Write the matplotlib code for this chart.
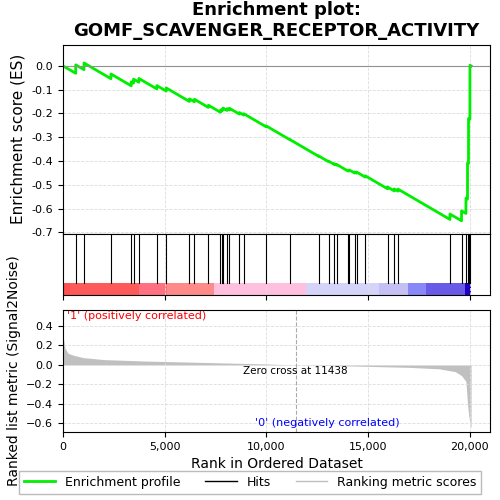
import numpy as np
import matplotlib
matplotlib.use("Agg")
import matplotlib.pyplot as plt
from matplotlib.lines import Line2D

n_genes = 20070
hits = [624, 1032, 2359, 3356, 3469, 3730, 4614, 5076, 6216, 6462, 7150, 7740, 7804,
        7873, 8070, 8182, 8673, 8885, 9985, 11164, 12570, 13061, 13342, 13456, 14016,
        14080, 14340, 14439, 14867, 15963, 16292, 16474, 19029, 19600, 19816, 19894,
        19943, 20012]
metric_rank = [0, 100, 250, 500, 1000, 2000, 4000, 6000, 8000, 10000, 11438, 14000,
               17000, 18500, 19300, 19600, 19816, 19894, 19943, 20012, 20069]
metric_val = [0.30, 0.17, 0.12, 0.10, 0.075, 0.055, 0.04, 0.03, 0.02, 0.01, 0.0, -0.01,
              -0.025, -0.04, -0.07, -0.11, -0.17, -0.4, -0.5, -0.6, -0.65]
band_edges = [0, 344, 3750, 5127, 7420, 11940, 15543, 16987, 17872, 19754, 20070]
band_colors = ['#ff5050', '#ff5a5a', '#ff7080', '#ff8a8a', '#ffc0e0', '#d4d4f8',
               '#c4c0f4', '#8888f8', '#6a5ae8', '#2000c0']

# running enrichment score (weighted, p=1)
ranks = np.arange(n_genes)
metric = np.interp(ranks, metric_rank, metric_val)
is_hit = np.zeros(n_genes, bool)
is_hit[hits] = True
w = np.abs(metric) * is_hit
step = np.where(is_hit, w / w.sum(), -1.0 / (n_genes - len(hits)))
es = np.concatenate([[0], np.cumsum(step)])
es_x = np.arange(n_genes + 1)

fig = plt.figure(figsize=(5, 5), dpi=100)
L, W = 0.126, 0.854
ax1 = fig.add_axes([L, 1 - 0.467, W, 0.378])
ax2 = fig.add_axes([L, 1 - 0.59, W, 0.123])
ax3 = fig.add_axes([L, 1 - 0.864, W, 0.244])

ax1.plot(es_x, es, color='#00ee00', lw=2)
ax1.axhline(0, color='#909090', lw=0.8)
ax1.set_xlim(0, 21000)
ax1.set_ylim(-0.705, 0.09)
ax1.set_xticks([0, 5000, 10000, 15000, 20000])
ax1.set_xticklabels([])
ax1.set_yticks(np.arange(-0.7, 0.01, 0.1))
ax1.set_yticklabels(['-0.7', '-0.6', '-0.5', '-0.4', '-0.3', '-0.2', '-0.1', '0.0'])
ax1.set_ylabel('Enrichment score (ES)', fontsize=11)
ax1.set_title('Enrichment plot:\nGOMF_SCAVENGER_RECEPTOR_ACTIVITY', fontsize=13, fontweight='bold')
ax1.grid(color='#dddddd', lw=0.6, ls='--')

for h in hits:
    ax2.axvline(h, ymin=0.2, ymax=0.97, color='black', lw=0.8)
for i, c in enumerate(band_colors):
    ax2.axvspan(band_edges[i], band_edges[i + 1], ymin=0, ymax=0.2, color=c, lw=0)
ax2.set_xlim(0, 21000)
ax2.set_ylim(0, 1)
ax2.set_xticks([0, 5000, 10000, 15000, 20000])
ax2.set_xticklabels([])
ax2.set_yticks([])
ax2.grid(axis='x', color='#dddddd', lw=0.6, ls='--')

ax3.fill_between(metric_rank, metric_val, 0, color='#c0c0c0', lw=0)
ax3.axvline(11438, color='#aaaaaa', lw=0.8, ls='--')
ax3.set_xlim(0, 21000)
ax3.set_ylim(-0.69, 0.565)
ax3.set_xticks([0, 5000, 10000, 15000, 20000])
ax3.set_xticklabels(['0', '5,000', '10,000', '15,000', '20,000'])
ax3.set_yticks([-0.6, -0.4, -0.2, 0.0, 0.2, 0.4])
ax3.grid(color='#dddddd', lw=0.6, ls='--')
ax3.set_xlabel('Rank in Ordered Dataset', fontsize=10)
ax3.set_ylabel('Ranked list metric (Signal2Noise)', fontsize=10)
ax3.text(200, 0.47, "'1' (positively correlated)", color='red', fontsize=8)
ax3.text(11438, -0.09, 'Zero cross at 11438', ha='center', fontsize=7.5)
ax3.text(13000, -0.63, "'0' (negatively correlated)", color='blue', fontsize=8, ha='center')
for ax in (ax1, ax2, ax3):
    ax.tick_params(labelsize=8)

handles = [Line2D([], [], color='#00ee00', lw=2), Line2D([], [], color='black', lw=1),
           Line2D([], [], color='#c0c0c0', lw=1)]
fig.legend(handles, ['Enrichment profile', 'Hits', 'Ranking metric scores'],
           loc='lower center', bbox_to_anchor=(0.5, 0.0), ncol=3, fontsize=9,
           frameon=True, fancybox=False, edgecolor='#aaaaaa', handlelength=2.5)

plt.savefig('out.png', dpi=100)
